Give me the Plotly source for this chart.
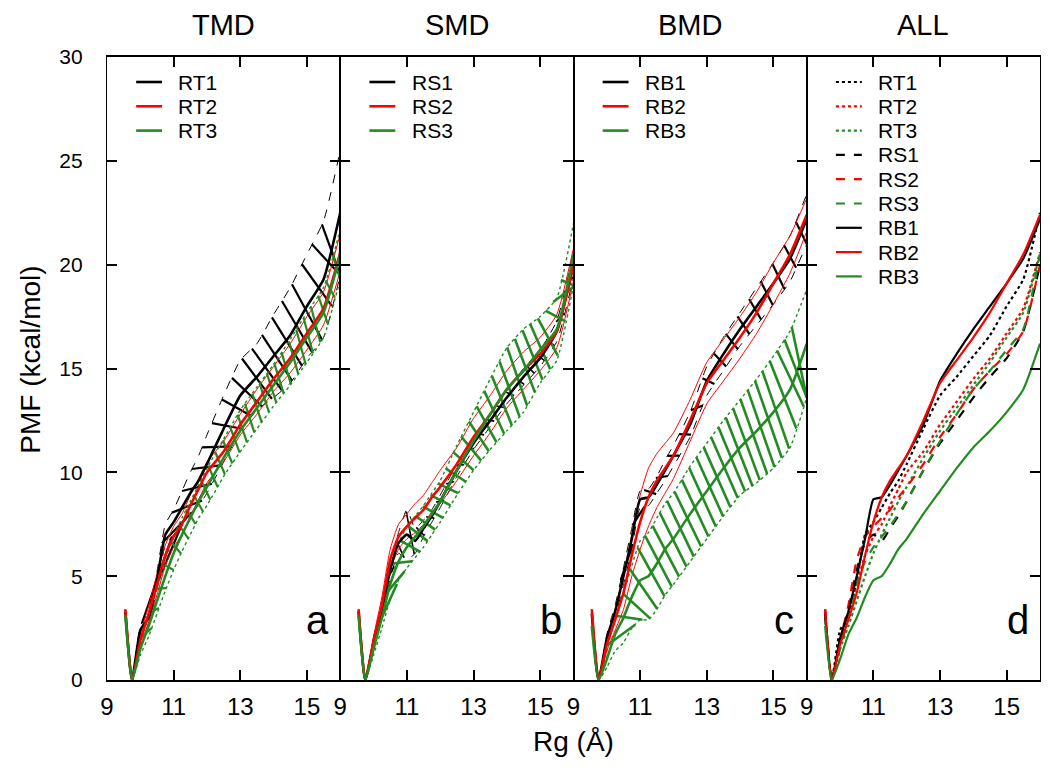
import numpy as np
import plotly.graph_objects as go

# ---------------- data ----------------
rg = [9.55, 9.75, 10.0, 10.25, 10.5, 10.75, 11.0, 11.25, 11.5, 11.75,
      12.0, 12.5, 13.0, 13.5, 14.0, 14.5, 15.0, 15.5, 16.0]

# TMD
rt1 = [3.3, 0.0, 2.4, 3.0, 4.8, 7.0, 7.6, 8.3, 9.0, 9.6, 10.4, 12.1, 13.7, 14.6, 15.6, 16.6, 18.0, 19.3, 22.5]
rt2 = [3.4, 0.0, 1.9, 3.2, 4.6, 6.0, 6.9, 7.5, 8.4, 9.2, 10.0, 11.0, 12.3, 13.4, 14.5, 15.5, 16.7, 17.9, 20.6]
rt3 = [3.1, 0.0, 1.5, 2.6, 3.8, 5.0, 6.1, 7.0, 7.8, 8.6, 9.3, 10.7, 12.0, 13.1, 14.2, 15.3, 16.5, 17.7, 20.5]
rt1_err = [0, 0, 0.2, 0.3, 0.4, 0.5, 0.6, 0.8, 1.0, 1.2, 1.4, 1.6, 1.7, 1.6, 2.0, 2.3, 2.5, 2.8, 3.0]
rt2_err = [0, 0, 0.3, 0.4, 0.5, 0.5, 0.5, 0.5, 0.5, 0.5, 0.5, 0.5, 0.5, 0.6, 0.6, 0.7, 0.8, 0.8, 0.9]
rt3_err = [0, 0, 0.3, 0.5, 0.6, 0.7, 0.8, 0.8, 0.8, 0.8, 0.9, 0.9, 1.0, 1.0, 1.0, 1.1, 1.2, 1.2, 1.2]

# SMD
rs1 = [3.3, 0.0, 1.8, 3.4, 5.3, 6.6, 7.0, 6.7, 7.3, 7.9, 8.6, 10.1, 11.4, 12.5, 13.6, 14.6, 15.5, 16.8, 20.0]
rs2 = [3.4, 0.0, 1.9, 3.6, 5.8, 6.9, 7.4, 7.8, 8.2, 8.8, 9.3, 10.4, 11.7, 12.8, 14.0, 14.9, 15.7, 16.8, 20.0]
rs3 = [3.1, 0.0, 1.5, 3.0, 4.6, 5.7, 6.4, 6.9, 7.4, 8.0, 8.6, 10.1, 11.5, 12.8, 14.0, 14.9, 15.9, 16.9, 20.5]
rs1_err = [0, 0, 0.2, 0.3, 0.4, 0.5, 1.2, 0.6, 0.4, 0.3, 0.3, 0.3, 0.3, 0.3, 0.3, 0.4, 0.4, 0.5, 0.6]
rs2_err = [0, 0, 0.2, 0.4, 0.5, 0.6, 0.6, 0.7, 0.7, 0.7, 0.8, 0.8, 0.9, 0.9, 0.9, 0.9, 0.8, 0.8, 0.8]
rs3_err = [0, 0, 0.3, 0.5, 0.7, 0.9, 1.0, 1.0, 1.0, 1.0, 1.0, 1.2, 1.4, 1.7, 2.0, 2.0, 1.6, 1.5, 1.5]

# BMD
rb1 = [3.2, 0.0, 2.0, 3.3, 5.0, 6.8, 8.7, 8.8, 9.4, 10.1, 10.8, 12.3, 14.4, 15.7, 16.9, 18.0, 19.1, 20.3, 22.2]
rb2 = [3.4, 0.0, 1.7, 2.9, 4.2, 6.0, 7.6, 8.8, 9.6, 10.2, 10.8, 12.5, 14.3, 15.4, 16.5, 17.7, 19.1, 20.5, 22.4]
rb3 = [2.6, 0.0, 1.0, 2.2, 3.0, 4.0, 4.8, 5.0, 5.6, 6.3, 6.8, 8.0, 9.1, 10.2, 11.2, 12.0, 12.9, 14.0, 16.2]
rb1_err = [0, 0, 0.2, 0.3, 0.4, 0.5, 0.4, 0.4, 0.4, 0.5, 0.5, 0.6, 0.7, 0.8, 0.8, 0.9, 1.0, 1.1, 1.2]
rb2_err = [0, 0, 0.3, 0.5, 0.8, 1.0, 1.3, 1.4, 1.3, 1.2, 1.1, 1.0, 1.0, 1.0, 1.0, 1.0, 1.0, 0.9, 0.8]
rb3_err = [0, 0, 0.4, 0.8, 1.2, 1.5, 1.9, 2.1, 2.2, 2.2, 2.2, 2.3, 2.3, 2.3, 2.3, 2.5, 2.7, 2.8, 2.6]

panel_titles = ["TMD", "SMD", "BMD", "ALL"]
panel_letters = ["a", "b", "c", "d"]
x_ticks = [9, 11, 13, 15]
y_ticks = [0, 5, 10, 15, 20, 25, 30]
x_range = [9, 16]
y_range = [0, 30]

# ---------------- styling ----------------
BLACK = "#000000"
RED = "#ff0000"
GREEN = "#228b22"
NARROW = "Liberation Sans Narrow, Arial Narrow, Liberation Sans, Arial, sans-serif"
SANS = "Liberation Sans, Arial, Helvetica, sans-serif"
SMOOTH = 0.5

fig = go.Figure()


def axis_names(i):
    s = "" if i == 1 else str(i)
    return "x" + s, "y" + s


def hatch(mean, err, start, step, h):
    m = np.array(mean, float)
    e = np.array(err, float)
    up, lo = m + e, m - e
    xs, ys = [], []
    for c in np.arange(start, x_range[1] + 1e-9, step):
        x0 = max(c - h, rg[0])
        x1 = min(c + h, x_range[1])
        xs += [x0, x1, None]
        ys += [float(np.interp(x0, rg, up)), float(np.interp(x1, rg, lo)), None]
    return xs, ys


def band_lines(mean, err, color, dash, width, xa, ya):
    m = np.array(mean, float)
    e = np.array(err, float)
    for yy in (m + e, m - e):
        fig.add_trace(go.Scatter(x=rg, y=list(yy), mode="lines", xaxis=xa, yaxis=ya,
                                 line=dict(color=color, width=width, dash=dash,
                                           shape="spline", smoothing=SMOOTH),
                                 showlegend=False, hoverinfo="skip"))


def hatch_trace(mean, err, color, start, step, h, width, xa, ya):
    xs, ys = hatch(mean, err, start, step, h)
    fig.add_trace(go.Scatter(x=xs, y=ys, mode="lines", xaxis=xa, yaxis=ya,
                             line=dict(color=color, width=width),
                             showlegend=False, hoverinfo="skip"))


panels = [
    (["RT1", "RT2", "RT3"], [rt1, rt2, rt3], [rt1_err, rt2_err, rt3_err],
     {0: (10.5, 0.3, 0.45, 2.2), 2: (10.2, 0.22, 0.14, 2.2)}),
    (["RS1", "RS2", "RS3"], [rs1, rs2, rs3], [rs1_err, rs2_err, rs3_err],
     {0: (10.5, 0.3, 0.12, 1.6), 2: (10.4, 0.23, 0.3, 2.6)}),
    (["RB1", "RB2", "RB3"], [rb1, rb2, rb3], [rb1_err, rb2_err, rb3_err],
     {0: (10.6, 0.35, 0.18, 2.2), 2: (10.45, 0.22, 0.4, 2.6)}),
]
colors = [BLACK, RED, GREEN]
bound_dash = ["dash", "solid", "dot"]
bound_width = [1, 1, 1.4]

legend_entries = []  # (panel index, name, color, dash, width)

for p, (names, means, errs, hspec) in enumerate(panels):
    xa, ya = axis_names(p + 1)
    for k in range(3):
        band_lines(means[k], errs[k], colors[k], bound_dash[k], bound_width[k], xa, ya)
        if k in hspec:
            st, sp, h, w = hspec[k]
            hatch_trace(means[k], errs[k], colors[k], st, sp, h, w, xa, ya)
    for k in range(3):
        fig.add_trace(go.Scatter(x=rg, y=means[k], mode="lines", name=names[k],
                                 xaxis=xa, yaxis=ya, showlegend=False,
                                 line=dict(color=colors[k], width=2.6,
                                           shape="spline", smoothing=SMOOTH)))
        legend_entries.append((p, names[k], colors[k], "solid", 2.6))

# panel d: all means
all_names = ["RT1", "RT2", "RT3", "RS1", "RS2", "RS3", "RB1", "RB2", "RB3"]
all_means = [rt1, rt2, rt3, rs1, rs2, rs3, rb1, rb2, rb3]
all_dash = ["dot"] * 3 + ["dash"] * 3 + ["solid"] * 3
for n, (name, m) in enumerate(zip(all_names, all_means)):
    fig.add_trace(go.Scatter(x=rg, y=m, mode="lines", name=name,
                             xaxis="x4", yaxis="y4", showlegend=False,
                             line=dict(color=colors[n % 3], width=2.2, dash=all_dash[n],
                                       shape="spline", smoothing=SMOOTH)))
    legend_entries.append((3, name, colors[n % 3], all_dash[n], 2.2))

# ---------------- layout ----------------
# page body has an 8px margin: figure is 1042x760 so that the plot box lands at
# x 107..1040, y 57..680 in the 1050x768 window
PLOT_TOP, PLOT_H = 49, 623
layout = dict(
    width=1042, height=760,
    margin=dict(l=99, r=10, t=PLOT_TOP, b=88),
    plot_bgcolor="white", paper_bgcolor="white",
    font=dict(family=SANS, color="black"),
    annotations=[], shapes=[], showlegend=False,
)

for i in range(1, 5):
    xs = "" if i == 1 else str(i)
    layout["xaxis" + xs] = dict(
        domain=[(i - 1) * 0.25, i * 0.25], range=x_range, anchor="y" + xs,
        tickvals=x_ticks, ticks="inside", ticklen=10, tickwidth=1.5, tickcolor="black",
        showline=True, linewidth=1.5, linecolor="black", mirror="allticks",
        showgrid=False, zeroline=False,
        tickfont=dict(family=NARROW, size=24), ticklabelstandoff=4,
    )
    layout["yaxis" + xs] = dict(
        domain=[0, 1], range=y_range, anchor="x" + xs,
        tickvals=y_ticks, ticks="inside", ticklen=10, tickwidth=1.5, tickcolor="black",
        showline=True, linewidth=1.3, linecolor="black", mirror="allticks",
        showgrid=False, zeroline=False, showticklabels=(i == 1),
        tickfont=dict(family=SANS, size=21), ticklabelstandoff=19,
    )
    if i > 1:
        layout["yaxis" + xs]["matches"] = "y"
    layout["annotations"].append(dict(
        text=panel_titles[i - 1], xref="x%s domain" % xs, yref="paper",
        x=0.5, y=1.052, showarrow=False, xanchor="center", yanchor="middle",
        font=dict(family=NARROW, size=29)))
    layout["annotations"].append(dict(
        text=panel_letters[i - 1], xref="x" + xs, yref="y" + xs,
        x=15.33, y=2.9, showarrow=False, xanchor="center", yanchor="middle",
        font=dict(family=SANS, size=40)))

# legends (one per panel, top-left inside the panel)
row_count = {}
for p, name, color, dash, width in legend_entries:
    r = row_count.get(p, 0)
    row_count[p] = r + 1
    xs = "" if p == 0 else str(p + 1)
    ypix = 74 + 24.3 * r
    yp = 1 - (ypix - PLOT_TOP) / PLOT_H
    layout["shapes"].append(dict(
        type="line", xref="x%s domain" % xs, yref="paper",
        x0=0.125, x1=0.236, y0=yp, y1=yp,
        line=dict(color=color, width=width, dash=dash)))
    layout["annotations"].append(dict(
        text=name, xref="x%s domain" % xs, yref="paper", x=0.297, y=yp,
        showarrow=False, xanchor="left", yanchor="middle",
        font=dict(family=SANS, size=21)))

layout["annotations"].append(dict(
    text="Rg (Å)", xref="paper", yref="paper", x=0.5, y=-0.099,
    showarrow=False, xanchor="center", yanchor="middle",
    font=dict(family=NARROW, size=28)))
layout["annotations"].append(dict(
    text="PMF (kcal/mol)", xref="paper", yref="paper", x=-0.082, y=0.515,
    showarrow=False, xanchor="center", yanchor="middle", textangle=-90,
    font=dict(family=SANS, size=28)))

fig.update_layout(**layout)
fig.write_html("out.html")
